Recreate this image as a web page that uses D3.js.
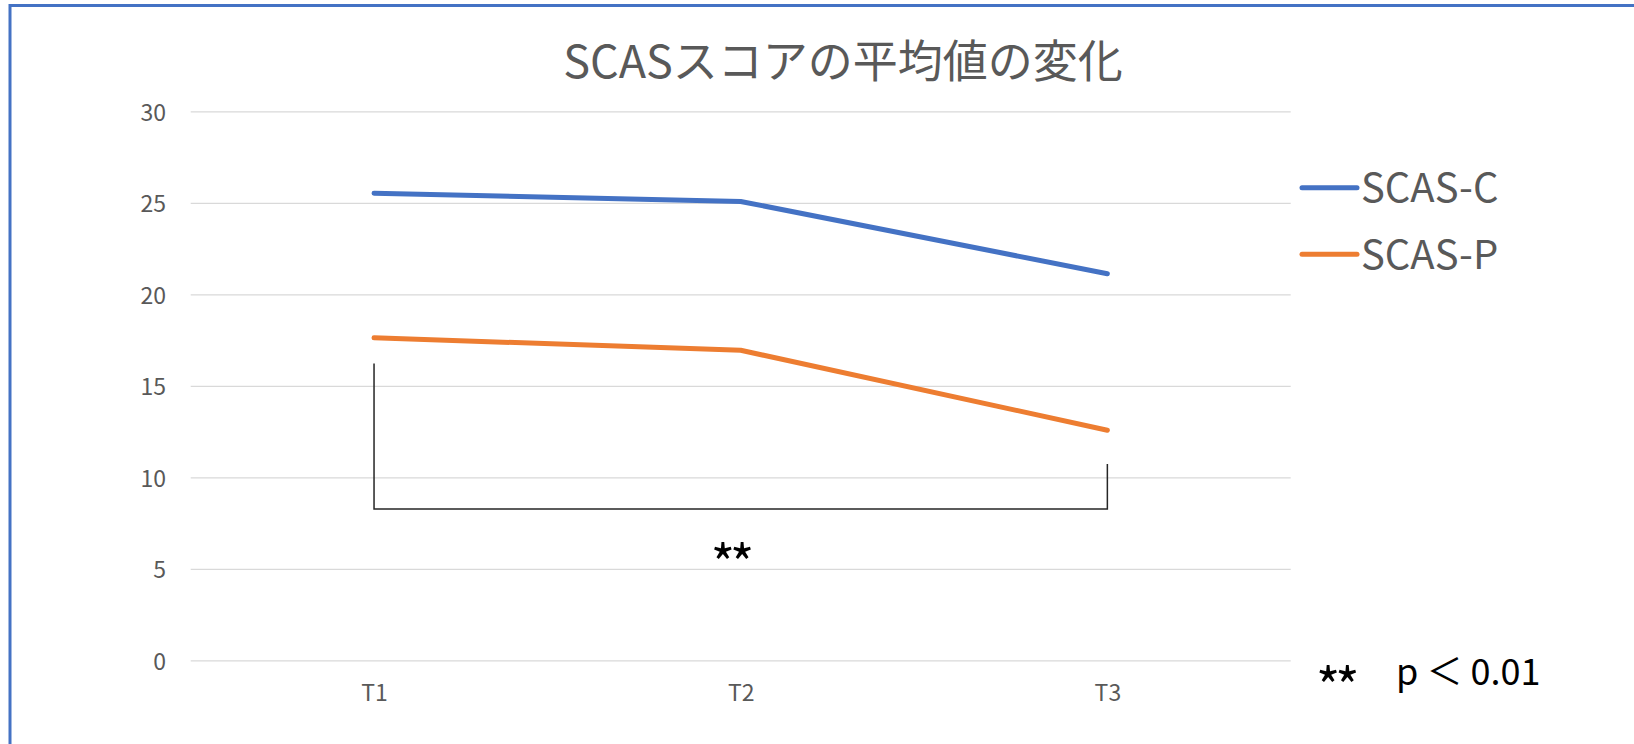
<!DOCTYPE html>
<html lang="ja">
<head>
  <meta charset="UTF-8" />
  <title>SCASスコアの平均値の変化</title>
  <script src="https://d3js.org/d3.v7.min.js"></script>
  <style>
    body {
      margin: 0;
      padding: 0;
      background-color: #fff;
      font-family: "Noto Sans CJK JP", "Noto Sans", sans-serif;
    }

    svg {
      display: block;
    }

    .grid line {
      stroke: #d9d9d9;
      stroke-width: 1.3px;
    }

    .tick-label {
      fill: #595959;
      font-size: 23px;
    }

    .series {
      fill: none;
      stroke-width: 5px;
      stroke-linecap: round;
      stroke-linejoin: round;
    }

    .bracket {
      fill: none;
      stroke: #262626;
      stroke-width: 1.5px;
    }
  </style>
</head>
<body>
  <svg width="1634" height="744"></svg>

  <script>
    // data
    const categories = ["T1", "T2", "T3"];
    const scasC = [25.55, 25.1, 21.15];
    const scasP = [17.65, 16.97, 12.6];
    const seriesNames = ["SCAS-C", "SCAS-P"];
    const seriesColors = ["#4472c4", "#ed7d31"];
    const yTicks = [0, 5, 10, 15, 20, 25, 30];

    // significance bracket between T1 and T3 (in y units)
    const bracketFrom = "T1";
    const bracketTo = "T3";
    const bracketLeftTop = 16.25;
    const bracketRightTop = 10.75;
    const bracketBase = 8.3;

    const svg = d3.select("svg");
    const width = 1634;
    const height = 744;

    // chart frame (only top and left edge are inside the picture)
    svg.append("rect")
      .attr("x", 10)
      .attr("y", 5.5)
      .attr("width", width + 20)
      .attr("height", height + 20)
      .attr("fill", "none")
      .attr("stroke", "#4472c4")
      .attr("stroke-width", 3);

    const x = d3.scalePoint()
      .domain(categories)
      .range([190.7, 1290.7])
      .padding(0.5);

    const y = d3.scaleLinear()
      .domain([0, 30])
      .range([660.8, 111.8]);

    // title
    svg.append("text")
      .attr("x", 843)
      .attr("y", 78)
      .attr("text-anchor", "middle")
      .attr("fill", "#595959")
      .style("font-size", "45px")
      .text("SCASスコアの平均値の変化");

    // gridlines
    svg.append("g")
      .attr("class", "grid")
      .selectAll("line")
      .data(yTicks)
      .enter().append("line")
      .attr("x1", 190.7)
      .attr("x2", 1290.7)
      .attr("y1", d => y(d))
      .attr("y2", d => y(d));

    // y axis labels
    const yAxis = d3.axisLeft(y).tickValues(yTicks).tickSize(0).tickPadding(0);
    const yg = svg.append("g")
      .attr("transform", "translate(166,0)")
      .call(yAxis)
      .attr("font-family", null)
      .attr("font-size", null);
    yg.select(".domain").remove();
    yg.selectAll("text")
      .attr("class", "tick-label")
      .attr("dy", "0.36em");

    // x axis labels
    const xAxis = d3.axisBottom(x).tickSize(0).tickPadding(0);
    const xg = svg.append("g")
      .attr("transform", "translate(0,701)")
      .call(xAxis)
      .attr("font-family", null)
      .attr("font-size", null);
    xg.select(".domain").remove();
    xg.selectAll("text")
      .attr("class", "tick-label")
      .attr("y", 0)
      .attr("dy", 0);

    // lines
    const line = d3.line()
      .x((d, i) => x(categories[i]))
      .y(d => y(d));

    [scasC, scasP].forEach((values, i) => {
      svg.append("path")
        .datum(values)
        .attr("class", "series")
        .attr("stroke", seriesColors[i])
        .attr("d", line);
    });

    // significance bracket
    svg.append("path")
      .attr("class", "bracket")
      .attr("d", d3.line()([
        [x(bracketFrom), y(bracketLeftTop)],
        [x(bracketFrom), y(bracketBase)],
        [x(bracketTo), y(bracketBase)],
        [x(bracketTo), y(bracketRightTop)]
      ]));

    svg.append("text")
      .attr("x", 730)
      .attr("y", 583)
      .attr("text-anchor", "middle")
      .attr("fill", "#000")
      .style("font-size", "52px")
      .style("letter-spacing", "-5px")
      .text("**");

    // legend
    const legend = svg.append("g")
      .selectAll("g")
      .data(seriesNames)
      .enter().append("g")
      .attr("transform", (d, i) => `translate(1302,${187.7 + i * 66.6})`);

    legend.append("line")
      .attr("x1", 0)
      .attr("x2", 55)
      .attr("stroke", (d, i) => seriesColors[i])
      .attr("stroke-width", 5)
      .attr("stroke-linecap", "round");

    legend.append("text")
      .attr("x", 59)
      .attr("y", 14.5)
      .attr("fill", "#595959")
      .style("font-size", "40px")
      .text(d => d);

    // p-value note
    svg.append("text")
      .attr("x", 1316)
      .attr("y", 706)
      .attr("fill", "#000")
      .style("font-size", "52px")
      .style("letter-spacing", "-5px")
      .text("**");

    svg.append("text")
      .attr("x", 1396)
      .attr("y", 685)
      .attr("fill", "#000")
      .style("font-size", "36px")
      .text("p ＜ 0.01");
  </script>
</body>
</html>
